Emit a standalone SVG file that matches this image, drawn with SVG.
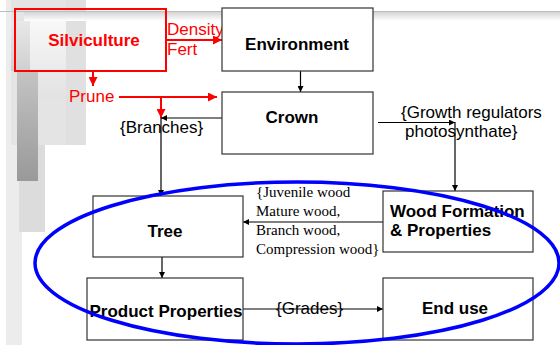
<svg xmlns="http://www.w3.org/2000/svg" width="560" height="345" viewBox="0 0 560 345">
<style>
.box{fill:#fff;stroke:#333;stroke-width:1.2}
.lbl{font-family:"Liberation Sans",Arial,sans-serif;font-size:17px;font-weight:bold;fill:#000}
.red{font-family:"Liberation Sans",Arial,sans-serif;font-size:17px;fill:#ff0000}
.note{font-family:"Liberation Sans",Arial,sans-serif;font-size:17px;fill:#000}
.serif{font-family:"Liberation Serif","Times New Roman",serif;font-size:15px;fill:#000}
.conn{fill:none;stroke:#000;stroke-width:1.2}
.rconn{fill:none;stroke:#ff0000;stroke-width:2}
</style>
<defs>
<marker id="ah" viewBox="0 0 10 10" refX="10" refY="5" markerWidth="6" markerHeight="6" markerUnits="userSpaceOnUse" orient="auto"><path d="M0,0 L10,5 L0,10 z" fill="#000"/></marker>
<marker id="rah" viewBox="0 0 10 10" refX="10" refY="5" markerWidth="9" markerHeight="9" markerUnits="userSpaceOnUse" orient="auto"><path d="M0,0 L10,5 L0,10 z" fill="#ff0000"/></marker>
<linearGradient id="band" x1="0" y1="0" x2="0" y2="1"><stop offset="0" stop-color="#d4d4d4"/><stop offset="1" stop-color="#ffffff"/></linearGradient>
<linearGradient id="dark" x1="0" y1="0" x2="0" y2="1"><stop offset="0" stop-color="#c4c4c4"/><stop offset="1" stop-color="#999"/></linearGradient>
<linearGradient id="lite" x1="0" y1="0" x2="0" y2="1"><stop offset="0" stop-color="#f8f8f8"/><stop offset="1" stop-color="#e2e2e2"/></linearGradient>
<linearGradient id="mid" x1="0" y1="0" x2="0" y2="1"><stop offset="0" stop-color="#e8e8e8"/><stop offset="1" stop-color="#cfcfcf"/></linearGradient>
</defs>
<g id="background">
<rect x="0" y="0" width="560" height="345" fill="#fff"/>
<rect x="6" y="0" width="16" height="345" fill="#ececec"/>
<rect x="11" y="0" width="75" height="145" fill="#e4e4e4"/>
<rect x="11" y="21" width="19" height="50" fill="url(#mid)"/>
<rect x="66" y="0" width="20" height="145" fill="#e0e0e0"/>
<rect x="30" y="21" width="36" height="78" fill="url(#lite)"/>
<rect x="19" y="145" width="26" height="87" fill="#dcdcdc"/>
<rect x="17" y="70" width="21" height="111" fill="url(#dark)"/>
<rect x="24" y="12" width="536" height="9" fill="url(#band)"/>
<line x1="0" y1="11.5" x2="560" y2="11.5" stroke="#bdbdbd" stroke-width="1"/>
</g>
<g id="connectors">
<line class="rconn" x1="166" y1="40" x2="222" y2="40" marker-end="url(#rah)"/>
<line class="rconn" x1="93" y1="71" x2="93" y2="86" marker-end="url(#rah)"/>
<line class="rconn" x1="119" y1="97" x2="217" y2="97" marker-end="url(#rah)"/>
<line class="rconn" x1="161" y1="97" x2="161" y2="118" marker-end="url(#rah)"/>
<line class="conn" x1="300.5" y1="71" x2="300.5" y2="92" marker-end="url(#ah)"/>
<line class="conn" x1="222" y1="118" x2="161" y2="118" marker-end="url(#ah)"/>
<line class="conn" x1="161" y1="118" x2="161" y2="196" marker-end="url(#ah)"/>
<line class="conn" x1="378" y1="122.5" x2="455" y2="122.5" marker-end="url(#ah)"/>
<line class="conn" x1="455" y1="122" x2="455" y2="191" marker-end="url(#ah)"/>
<line class="conn" x1="383" y1="222" x2="243" y2="222" marker-end="url(#ah)"/>
<line class="conn" x1="162" y1="257" x2="162" y2="278" marker-end="url(#ah)"/>
<line class="conn" x1="243" y1="309" x2="383" y2="309" marker-end="url(#ah)"/>
</g>
<g id="silviculture">
<rect x="15" y="9" width="151" height="62" fill="none" stroke="#ff0000" stroke-width="2"/>
<text class="red" x="94" y="46" text-anchor="middle" font-weight="bold">Silviculture</text>
</g>
<g id="density-fert">
<text class="red" x="167" y="35">Density</text>
<text class="red" x="167" y="55">Fert</text>
</g>
<g id="prune"><text class="red" x="69" y="102">Prune</text></g>
<g id="environment">
<rect class="box" x="222" y="8" width="151" height="63"/>
<text class="lbl" x="297" y="50" text-anchor="middle">Environment</text>
</g>
<g id="crown">
<rect class="box" x="222" y="92" width="151" height="62"/>
<text class="lbl" x="292" y="123" text-anchor="middle">Crown</text>
</g>
<g id="branches"><text class="note" x="120" y="133">{Branches}</text></g>
<g id="growth">
<text class="note" x="401" y="118">{Growth regulators</text>
<text class="note" x="405" y="137">photosynthate}</text>
</g>
<g id="wood-formation">
<rect class="box" x="383" y="191" width="150" height="61"/>
<text class="lbl" x="390" y="217">Wood Formation</text>
<text class="lbl" x="390" y="236">&amp; Properties</text>
</g>
<g id="wood-types">
<text class="serif" x="256" y="197">{Juvenile wood</text>
<text class="serif" x="256" y="216">Mature wood,</text>
<text class="serif" x="256" y="235">Branch wood,</text>
<text class="serif" x="256" y="254">Compression wood}</text>
</g>
<g id="tree">
<rect class="box" x="93" y="196" width="150" height="61"/>
<text class="lbl" x="165" y="237" text-anchor="middle">Tree</text>
</g>
<g id="product-properties">
<rect class="box" x="87" y="278" width="156" height="62"/>
<text class="lbl" x="166" y="317" text-anchor="middle">Product Properties</text>
</g>
<g id="grades"><text class="note" x="276" y="314">{Grades}</text></g>
<g id="end-use">
<rect class="box" x="383" y="278" width="150" height="62"/>
<text class="lbl" x="455" y="314" text-anchor="middle">End use</text>
</g>
<g id="highlight">
<ellipse cx="297" cy="263" rx="262" ry="81" fill="none" stroke="#0000ff" stroke-width="3.5"/>
</g>
</svg>
